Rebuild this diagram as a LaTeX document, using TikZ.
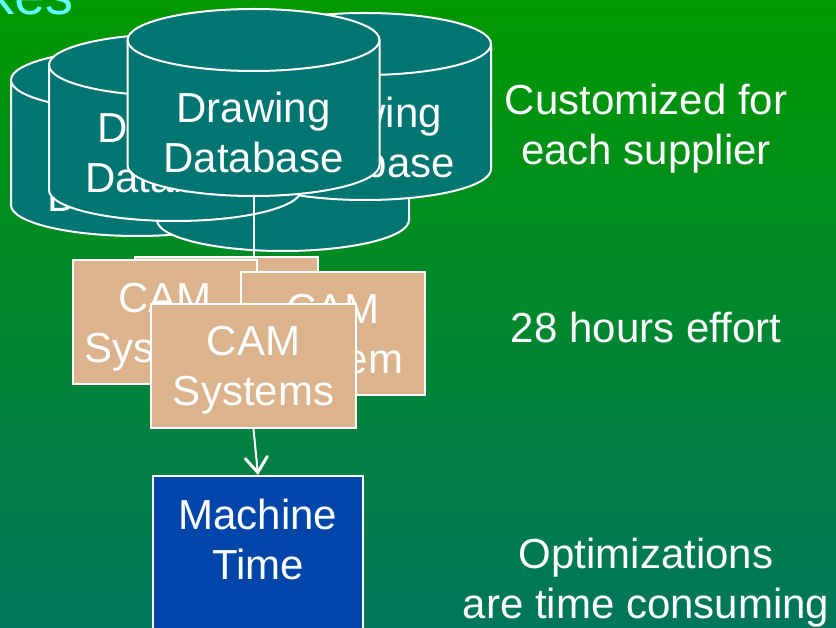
\documentclass[tikz,border=0pt]{standalone}
\usepackage{fontspec}
\setmainfont{Liberation Sans}
\usetikzlibrary{arrows.meta}

\definecolor{bgtop}{RGB}{0,153,0}
\definecolor{bgmid}{RGB}{0,138,52}
\definecolor{bgbot}{RGB}{0,118,92}
\definecolor{dbteal}{RGB}{0,117,114}
\definecolor{camtan}{RGB}{219,179,140}
\definecolor{mtblue}{RGB}{0,70,170}
\definecolor{titlecyan}{RGB}{95,255,255}

\tikzset{
  bigtext/.style={text=white, font=\fontsize{42}{50}\selectfont, align=center, inner sep=0pt},
  dbbody/.style={fill=dbteal, draw=white, line width=2pt},
  dbline/.style={draw=white, line width=2pt},
  cambox/.style={bigtext, rectangle, fill=camtan, draw=white, line width=2pt,
    minimum height=124pt, text depth=0pt},
  mtbox/.style={rectangle, fill=mtblue, draw=white, line width=2pt, inner sep=0pt},
  link/.style={draw=white, line width=2pt},
  flowarrow/.style={draw=white, line width=2pt,
    -{Straight Barb[length=15pt, width=22pt, line width=3pt, line cap=round]}},
}

% database cylinder: name, centre x, top-ellipse centre y, last baseline y, text
\newcommand\dbcyl[5]{%
  \path[dbbody] (#2-126,-#3) -- ++(0,-125)
    arc[start angle=180, end angle=360, x radius=126, y radius=31] -- ++(0,125)
    arc[start angle=0, end angle=180, x radius=126, y radius=31] -- cycle;
  \draw[dbline] (#2-126,-#3) arc[start angle=180, end angle=360, x radius=126, y radius=31];
  \node[bigtext, anchor=base] (#1) at (#2,-#4) {#5};
  \coordinate (#1-base) at (#2,-#3-156);
}

\begin{document}
\begin{tikzpicture}[x=1pt, y=1pt]
  \useasboundingbox (0,0) rectangle (836,-628);
  % slide background
  \path[top color=bgtop, middle color=bgmid, bottom color=bgbot] (0,0) rectangle (836,-628);

  % end of the slide title
  \node[text=titlecyan, font=\fontsize{56}{60}\selectfont, inner sep=0pt, anchor=base east] (title) at (74,-15) {kes};

  % stacked drawing databases, back to front
  \dbcyl{dbA}{137}{80}{212}{Drawing\\Database}
  \dbcyl{dbE}{283}{95}{228}{}
  \dbcyl{dbD}{365}{44}{178}{Drawing\\Database}
  \dbcyl{dbB}{175}{65}{193}{Drawing\\Database}
  \dbcyl{dbC}{253.5}{40}{173}{Drawing\\Database}

  % CAM systems, back to front
  \node[cambox, minimum width=183pt] (cam0) at (226.5,-319.5) {CAM\\Systems};
  \draw[link] (dbC-base) -- (cam0.north -| dbC-base);
  \node[cambox, minimum width=184pt] (cam1) at (165,-322.5) {CAM\\Systems};
  \node[cambox, minimum width=184pt, minimum height=123pt] (cam2) at (333,-333.5) {CAM\\System};
  \node[cambox, minimum width=205pt] (cam3) at (253.5,-366) {CAM\\Systems};

  % machine time
  \node[mtbox, minimum width=210pt, minimum height=240pt] (machine) at (258,-596) {};
  \node[bigtext, anchor=base] (machinetext) at (258,-579) {Machine\\Time};
  \draw[flowarrow] (cam3.south) -- (machine.north);

  % notes on the right
  \node[bigtext, anchor=base] (note1) at (646,-165) {Customized for\\each supplier};
  \node[bigtext, anchor=base] (note2) at (646,-343) {28 hours effort};
  \node[bigtext, anchor=base] (note3) at (646,-618) {Optimizations\\are time consuming};
\end{tikzpicture}
\end{document}
